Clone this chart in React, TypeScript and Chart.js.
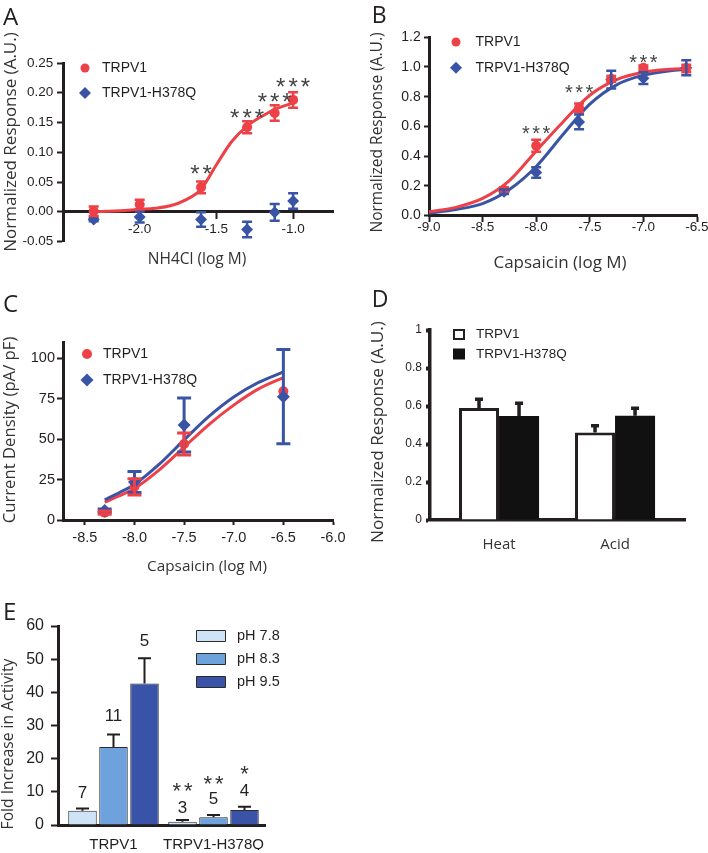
import React, { useEffect, useRef } from 'react';
import { Chart, registerables } from 'chart.js';

Chart.register(...registerables);

const RED = '#ee4047';
const BLUE = '#3a54a5';
const INK = '#231f20';
const GREY = '#333333';
const SANS = '"Liberation Sans", Arial, sans-serif';
const OPEN = '"Open Sans", sans-serif';

// ---------- Panel A: NH4Cl ----------
const aLogConc = [-2.3, -2.0, -1.6, -1.3, -1.12, -1.0];
const aTrpv1 = [0.001, 0.012, 0.041, 0.142, 0.166, 0.188];
const aTrpv1Err = [0.008, 0.008, 0.01, 0.01, 0.013, 0.013];
const aMutant = [-0.013, -0.009, -0.013, -0.03, -0.001, 0.018];
const aMutantErr = [0.003, 0.009, 0.012, 0.013, 0.014, 0.013];
const aFitLogConc = [-2.3, -2.2, -2.1, -2.0, -1.9, -1.8, -1.7, -1.6, -1.5, -1.4, -1.3, -1.2, -1.1, -1.0];
const aTrpv1Fit = [0.0, 0.001, 0.002, 0.004, 0.006, 0.01, 0.02, 0.038, 0.079, 0.118, 0.144, 0.161, 0.174, 0.183];
const aStars = ['', '', '**', '***', '***', '***'];
const aStarLevel = [0, 0, 0.073, 0.168, 0.194, 0.219];
const aXTicks = [-2.0, -1.5, -1.0];
const aYTicks = [-0.05, 0, 0.05, 0.1, 0.15, 0.2, 0.25];

// ---------- Panel B: Capsaicin (Ca imaging) ----------
const bLogConc = [-8.3, -8.0, -7.6, -7.3, -7.0, -6.6];
const bTrpv1 = [0.17, 0.47, 0.725, 0.92, 0.995, 0.99];
const bTrpv1Err = [0.02, 0.04, 0.03, 0.02, 0.015, 0.025];
const bMutant = [0.16, 0.29, 0.63, 0.915, 0.925, 0.995];
const bMutantErr = [0.015, 0.035, 0.05, 0.06, 0.04, 0.05];
const bFitLogConc = [-9.0, -8.75, -8.5, -8.25, -8.0, -7.75, -7.5, -7.25, -7.0, -6.75, -6.6];
const bTrpv1Fit = [0.025, 0.055, 0.115, 0.235, 0.435, 0.63, 0.81, 0.915, 0.965, 0.985, 0.99];
const bMutantFit = [0.015, 0.04, 0.08, 0.175, 0.33, 0.545, 0.75, 0.88, 0.945, 0.975, 0.985];
const bStars = ['', '***', '***', '', '***', ''];
const bStarLevel = [0, 0.584, 0.865, 0, 1.066, 0];
const bXTicks = [-9.0, -8.5, -8.0, -7.5, -7.0, -6.5];
const bYTicks = [0, 0.2, 0.4, 0.6, 0.8, 1.0, 1.2];

// ---------- Panel C: Capsaicin (current density) ----------
const cLogConc = [-8.3, -8.0, -7.5, -6.5];
const cTrpv1 = [4.5, 20.5, 47, 79.5];
const cTrpv1Err = [1, 5, 6.8, 0];
const cMutant = [5.8, 23.5, 58.7, 76.2];
const cMutantErr = [1, 6.5, 16.7, 29.1];
const cFitLogConc = [-8.3, -8.15, -8.0, -7.75, -7.5, -7.25, -7.0, -6.75, -6.5];
const cTrpv1Fit = [11, 15, 19.5, 31, 45, 59, 71, 81, 88];
const cMutantFit = [12.5, 17, 22, 34.5, 49.5, 64, 76, 85, 91.5];
const cXTicks = [-8.5, -8.0, -7.5, -7.0, -6.5, -6.0];
const cYTicks = [0, 25, 50, 75, 100];

// ---------- Panel D: Heat / Acid ----------
const dStimuli = ['Heat', 'Acid'];
const dTrpv1 = [0.59, 0.461];
const dTrpv1Err = [0.045, 0.035];
const dMutant = [0.547, 0.549];
const dMutantErr = [0.067, 0.039];
const dYTicks = [0, 0.2, 0.4, 0.6, 0.8, 1];

// ---------- Panel E: pH ----------
const eConstructs = ['TRPV1', 'TRPV1-H378Q'];
const ePh78 = [4.3, 1.0];
const ePh78Err = [0.7, 0.5];
const ePh83 = [23.5, 2.3];
const ePh83Err = [3.8, 0.7];
const ePh95 = [42.7, 4.5];
const ePh95Err = [7.6, 1.0];
const eN78 = ['7', '3'];
const eN83 = ['11', '5'];
const eN95 = ['5', '4'];
const eNLevel78 = [10, 5.4];
const eNLevel83 = [33.2, 8.1];
const eNLevel95 = [55.8, 10.5];
const eStars78 = ['', '**'];
const eStars83 = ['', '**'];
const eStars95 = ['', '*'];
const eStarLevel78 = [0, 12.1];
const eStarLevel83 = [0, 14.2];
const eStarLevel95 = [0, 17.2];
const eYTicks = [0, 10, 20, 30, 40, 50, 60];

const pts = (xs: number[], ys: number[]) => xs.map((x, i) => ({ x, y: ys[i] }));

const axis = (o: any) => ({
  type: 'linear',
  min: o.min,
  max: o.max,
  position: o.position,
  offset: false,
  afterBuildTicks: (s: any) => {
    s.ticks = o.ticks.map((v: number) => ({ value: v }));
  },
  afterFit: (s: any) => {
    if (o.fitW !== undefined) s.width = o.fitW;
    if (o.fitH !== undefined) s.height = o.fitH;
    s.paddingLeft = 0;
    s.paddingRight = 0;
    s.paddingTop = 0;
    s.paddingBottom = 0;
  },
  grid: {
    display: true,
    drawOnChartArea: false,
    offset: false,
    drawTicks: o.tl > 0,
    tickLength: o.tl,
    tickWidth: o.tickWidth ?? 2,
    tickColor: INK,
  },
  border: { display: true, width: o.border, color: INK },
  ticks: {
    autoSkip: false,
    maxRotation: 0,
    minRotation: 0,
    padding: o.pad,
    color: o.color ?? INK,
    font: { family: o.family ?? SANS, size: o.size },
    callback: (v: number) => o.fmt(v),
  },
});

const textsPlugin = (items: any[]) => ({
  id: 'texts',
  afterDraw(chart: any) {
    const ctx = chart.ctx;
    for (const t of items) {
      ctx.save();
      ctx.font = `${t.size}px ${t.family ?? OPEN}`;
      ctx.fillStyle = t.color ?? GREY;
      ctx.textAlign = t.align ?? 'center';
      ctx.textBaseline = t.baseline ?? 'middle';
      ctx.translate(t.x, t.y);
      if (t.rot) ctx.rotate((t.rot * Math.PI) / 180);
      ctx.fillText(t.text, 0, 0);
      ctx.restore();
    }
  },
});

const errPlugin = {
  id: 'errs',
  afterDatasetsDraw(chart: any) {
    const ctx = chart.ctx;
    chart.data.datasets.forEach((ds: any, di: number) => {
      if (!ds.err) return;
      const meta = chart.getDatasetMeta(di);
      const ys = chart.scales[meta.yAxisID];
      ctx.save();
      ctx.strokeStyle = ds.errColor;
      ctx.lineWidth = ds.errWidth;
      meta.data.forEach((el: any, i: number) => {
        const e = ds.err[i];
        if (!e) return;
        const v = ds.data[i].y;
        const x = el.x;
        const top = ys.getPixelForValue(v + e);
        const bot = ds.errUp ? ys.getPixelForValue(v) : ys.getPixelForValue(v - e);
        const hw = ds.cap / 2;
        ctx.beginPath();
        ctx.moveTo(x, bot);
        ctx.lineTo(x, top);
        ctx.moveTo(x - hw, top);
        ctx.lineTo(x + hw, top);
        if (!ds.errUp) {
          ctx.moveTo(x - hw, bot);
          ctx.lineTo(x + hw, bot);
        }
        ctx.stroke();
      });
      ctx.restore();
    });
  },
};

const notesPlugin = {
  id: 'notes',
  afterDatasetsDraw(chart: any) {
    const ctx = chart.ctx;
    chart.data.datasets.forEach((ds: any, di: number) => {
      if (!ds.notes) return;
      const meta = chart.getDatasetMeta(di);
      const ys = chart.scales[meta.yAxisID];
      for (const layer of ds.notes) {
        ctx.save();
        ctx.font = `${layer.size}px ${SANS}`;
        ctx.fillStyle = layer.color ?? INK;
        ctx.textAlign = 'left';
        ctx.textBaseline = 'alphabetic';
        const sp = layer.spacing ?? 0;
        (ctx as any).letterSpacing = `${sp}px`;
        layer.texts.forEach((t: string, i: number) => {
          if (!t) return;
          const el = meta.data[i];
          const cy = ys.getPixelForValue(layer.at[i]);
          const w = ctx.measureText(t).width - sp;
          const lift = layer.kind === 'star' ? 0.58 : 0.36;
          ctx.fillText(t, el.x - w / 2, cy + lift * layer.size);
        });
        (ctx as any).letterSpacing = '0px';
        ctx.restore();
      }
    });
  },
};

const keysPlugin = (o: any) => ({
  id: 'keys',
  afterDraw(chart: any) {
    const ctx = chart.ctx;
    const sets = chart.data.datasets.filter((d: any) => d.key).sort((a: any, b: any) => a.key.rank - b.key.rank);
    sets.forEach((ds: any, i: number) => {
      const k = ds.key;
      const x = o.x;
      const y = o.y + i * o.dy;
      ctx.save();
      ctx.beginPath();
      if (k.shape === 'circle') {
        ctx.arc(x, y, k.r, 0, Math.PI * 2);
      } else if (k.shape === 'diamond') {
        ctx.moveTo(x - k.r, y);
        ctx.lineTo(x, y - k.r);
        ctx.lineTo(x + k.r, y);
        ctx.lineTo(x, y + k.r);
        ctx.closePath();
      } else {
        ctx.rect(x - k.w / 2, y - k.h / 2, k.w, k.h);
      }
      ctx.fillStyle = k.fill;
      ctx.fill();
      if (k.lw) {
        ctx.lineWidth = k.lw;
        ctx.strokeStyle = k.stroke;
        ctx.stroke();
      }
      ctx.font = `${o.size}px ${SANS}`;
      ctx.fillStyle = INK;
      ctx.textAlign = 'left';
      ctx.textBaseline = 'middle';
      ctx.fillText(ds.label, o.textX, y);
      ctx.restore();
    });
  },
});

const baseOptions = (padding: any) => ({
  responsive: false,
  maintainAspectRatio: false,
  animation: false,
  events: [],
  layout: { padding },
  plugins: { legend: { display: false }, tooltip: { enabled: false }, title: { display: false } },
});

const scatterSet = (label: string, xs: number[], ys: number[], errs: number[], color: string, style: string, r: number, extra: any = {}) => ({
  label,
  data: pts(xs, ys),
  showLine: false,
  pointStyle: style,
  pointRadius: r,
  pointBackgroundColor: color,
  pointBorderColor: color,
  pointBorderWidth: 0,
  backgroundColor: color,
  borderColor: color,
  err: errs,
  errColor: color,
  ...extra,
});

const fitSet = (label: string, xs: number[], ys: number[], color: string) => ({
  type: 'line',
  label,
  data: pts(xs, ys),
  borderColor: color,
  backgroundColor: color,
  borderWidth: 3,
  pointRadius: 0,
  fill: false,
  showLine: true,
  cubicInterpolationMode: 'monotone',
});

const chartA = () => ({
  type: 'scatter',
  data: {
    datasets: [
      scatterSet('TRPV1-H378Q', aLogConc, aMutant, aMutantErr, BLUE, 'rectRot', 6, {
        errWidth: 2.5, cap: 10, key: { rank: 2, shape: 'diamond', r: 6, fill: BLUE },
      }),
      scatterSet('TRPV1', aLogConc, aTrpv1, aTrpv1Err, RED, 'circle', 5, {
        errWidth: 2.5, cap: 10, key: { rank: 1, shape: 'circle', r: 4.5, fill: RED },
        notes: [{ texts: aStars, at: aStarLevel, size: 24, kind: 'star', spacing: 3, color: '#444' }],
      }),
      fitSet('TRPV1 fit', aFitLogConc, aTrpv1Fit, RED),
    ],
  },
  options: {
    ...baseOptions({ left: 0, top: 63, right: 17, bottom: 48.5 }),
    scales: {
      x: axis({ min: -2.5, max: -0.74, ticks: aXTicks, fmt: (v: number) => v.toFixed(1), size: 13.5, tl: 6, pad: 3.6, border: 3, position: { y: 0 }, fitH: 30 }),
      y: axis({ min: -0.05, max: 0.25, ticks: aYTicks, fmt: (v: number) => v.toFixed(2), size: 13.5, tl: 6, pad: 3.7, border: 3, position: 'left', fitW: 63 }),
    },
  },
  plugins: [
    errPlugin,
    notesPlugin,
    keysPlugin({ x: 85, y: 68, dy: 25, textX: 102, size: 14 }),
    textsPlugin([
      { text: 'A', x: 3, y: 24.5, size: 24, align: 'left', baseline: 'alphabetic', color: INK },
      { text: 'Normalized Response (A.U.)', x: 11, y: 142, size: 17, rot: -90 },
      { text: 'NH4Cl (log M)', x: 197, y: 260, size: 15.5 },
    ]),
  ],
});

const chartB = () => ({
  type: 'scatter',
  data: {
    datasets: [
      scatterSet('TRPV1', bLogConc, bTrpv1, bTrpv1Err, RED, 'circle', 5, {
        errWidth: 2.5, cap: 10, key: { rank: 1, shape: 'circle', r: 4.5, fill: RED },
        notes: [{ texts: bStars, at: bStarLevel, size: 20, kind: 'star', spacing: 2.5, color: '#444' }],
      }),
      scatterSet('TRPV1-H378Q', bLogConc, bMutant, bMutantErr, BLUE, 'rectRot', 6, {
        errWidth: 2.5, cap: 10, key: { rank: 2, shape: 'diamond', r: 6, fill: BLUE },
      }),
      fitSet('TRPV1 fit', bFitLogConc, bTrpv1Fit, RED),
      fitSet('TRPV1-H378Q fit', bFitLogConc, bMutantFit, BLUE),
    ],
  },
  options: {
    ...baseOptions({ left: 0, top: 37.3, right: 11, bottom: 44.5 }),
    scales: {
      x: axis({ min: -9, max: -6.5, ticks: bXTicks, fmt: (v: number) => v.toFixed(1), size: 13.5, tl: 6.5, pad: -3.2, border: 3, position: 'bottom', fitH: 30 }),
      y: axis({ min: 0, max: 1.2, ticks: bYTicks, fmt: (v: number) => v.toFixed(1), size: 14, tl: 5, pad: 3.3, border: 3, position: 'left', fitW: 79 }),
    },
  },
  plugins: [
    errPlugin,
    notesPlugin,
    keysPlugin({ x: 106, y: 42, dy: 25.7, textX: 125.5, size: 14 }),
    textsPlugin([
      { text: 'B', x: 21.7, y: 23, size: 23, align: 'left', baseline: 'alphabetic', color: INK },
      { text: 'Normalized Response (A.U.)', x: 28, y: 132.5, size: 15.5, rot: -90 },
      { text: 'Capsaicin (log M)', x: 210, y: 263, size: 17 },
    ]),
  ],
});

const chartC = () => ({
  type: 'scatter',
  data: {
    datasets: [
      scatterSet('TRPV1-H378Q', cLogConc, cMutant, cMutantErr, BLUE, 'rectRot', 6.5, {
        errWidth: 3, cap: 14, key: { rank: 2, shape: 'diamond', r: 6.5, fill: BLUE },
      }),
      scatterSet('TRPV1', cLogConc, cTrpv1, cTrpv1Err, RED, 'circle', 5, {
        errWidth: 3, cap: 14, key: { rank: 1, shape: 'circle', r: 5, fill: RED },
      }),
      fitSet('TRPV1-H378Q fit', cFitLogConc, cMutantFit, BLUE),
      fitSet('TRPV1 fit', cFitLogConc, cTrpv1Fit, RED),
    ],
  },
  options: {
    ...baseOptions({ left: 0, top: 52, right: 17, bottom: 40 }),
    scales: {
      x: axis({ min: -8.72, max: -6.0, ticks: cXTicks, fmt: (v: number) => v.toFixed(1), size: 14.5, tl: 5, pad: 4.6, border: 3, position: 'bottom', fitH: 30 }),
      y: axis({ min: 0, max: 110, ticks: cYTicks, fmt: (v: number) => String(v), size: 14.5, tl: 6, pad: 2, border: 3, position: 'left', fitW: 63 }),
    },
  },
  plugins: [
    errPlugin,
    keysPlugin({ x: 87, y: 64, dy: 26, textX: 103, size: 14 }),
    textsPlugin([
      { text: 'C', x: 3, y: 22, size: 24, align: 'left', baseline: 'alphabetic', color: INK },
      { text: 'Current Density (pA/ pF)', x: 10, y: 140, size: 16.7, rot: -90 },
      { text: 'Capsaicin (log M)', x: 207, y: 276.7, size: 15.3 },
    ]),
  ],
});

const chartD = () => ({
  type: 'bar',
  data: {
    datasets: [
      {
        label: 'TRPV1',
        data: pts([0, 1], dTrpv1),
        backgroundColor: '#ffffff',
        borderColor: INK,
        borderWidth: 3,
        categoryPercentage: 0.69,
        barPercentage: 1,
        err: dTrpv1Err, errUp: true, errColor: INK, errWidth: 3.5, cap: 8,
        key: { rank: 1, shape: 'box', w: 10, h: 9, fill: '#ffffff', stroke: INK, lw: 2 },
      },
      {
        label: 'TRPV1-H378Q',
        data: pts([0, 1], dMutant),
        backgroundColor: '#111111',
        borderColor: '#111111',
        borderWidth: 0,
        categoryPercentage: 0.69,
        barPercentage: 1,
        err: dMutantErr, errUp: true, errColor: INK, errWidth: 3.5, cap: 8,
        key: { rank: 2, shape: 'box', w: 12, h: 11, fill: '#111111' },
      },
    ],
  },
  options: {
    ...baseOptions({ left: 0, top: 40, right: 23, bottom: 40 }),
    scales: {
      x: axis({ min: -0.595, max: 1.603, ticks: [0, 1], fmt: (v: number) => dStimuli[v] ?? '', size: 15, family: OPEN, color: GREY, tl: 0, pad: 16, border: 3.5, position: 'bottom', fitH: 30 }),
      y: axis({ min: 0, max: 1, ticks: dYTicks, fmt: (v: number) => String(v), size: 12, tl: 4, tickWidth: 4, pad: 4, border: 3.5, position: 'left', fitW: 80 }),
    },
  },
  plugins: [
    errPlugin,
    keysPlugin({ x: 109, y: 44.5, dy: 19.5, textX: 126, size: 13.5 }),
    textsPlugin([
      { text: 'D', x: 21.7, y: 16.5, size: 23, align: 'left', baseline: 'alphabetic', color: INK },
      { text: 'Normalized Response (A.U.)', x: 28, y: 142, size: 17.2, rot: -90 },
    ]),
  ],
});

const eBar = (label: string, ys: number[], errs: number[], color: string, rank: number, notes: any[]) => ({
  label,
  data: pts([0, 1], ys),
  backgroundColor: color,
  borderColor: '#2b2b2b',
  borderWidth: 1,
  categoryPercentage: 0.93,
  barPercentage: 0.92,
  err: errs, errUp: true, errColor: INK, errWidth: 2, cap: 13,
  notes,
  key: { rank, shape: 'box', w: 29, h: 11, fill: color, stroke: '#2b2b2b', lw: 1 },
});

const chartE = () => ({
  type: 'bar',
  data: {
    datasets: [
      eBar('pH 7.8', ePh78, ePh78Err, '#cfe3f6', 1, [
        { texts: eN78, at: eNLevel78, size: 17, kind: 'num' },
        { texts: eStars78, at: eStarLevel78, size: 22, kind: 'star', spacing: 3, color: '#333' },
      ]),
      eBar('pH 8.3', ePh83, ePh83Err, '#6da2dc', 2, [
        { texts: eN83, at: eNLevel83, size: 17, kind: 'num' },
        { texts: eStars83, at: eStarLevel83, size: 22, kind: 'star', spacing: 3, color: '#333' },
      ]),
      eBar('pH 9.5', ePh95, ePh95Err, '#3853a8', 3, [
        { texts: eN95, at: eNLevel95, size: 17, kind: 'num' },
        { texts: eStars95, at: eStarLevel95, size: 22, kind: 'star', spacing: 3, color: '#333' },
      ]),
    ],
  },
  options: {
    ...baseOptions({ left: 0, top: 36, right: 85, bottom: 3 }),
    scales: {
      x: axis({ min: -0.555, max: 1.515, ticks: [0, 1], fmt: (v: number) => eConstructs[v] ?? '', size: 15, tl: 0, pad: 11, border: 3, position: 'bottom', fitH: 25 }),
      y: axis({ min: 0, max: 60, ticks: eYTicks, fmt: (v: number) => String(v), size: 16, tl: 7, pad: 7, border: 3, position: 'left', fitW: 58 }),
    },
  },
  plugins: [
    errPlugin,
    notesPlugin,
    keysPlugin({ x: 211, y: 46, dy: 23, textX: 237, size: 14.5 }),
    textsPlugin([
      { text: 'E', x: 3, y: 30, size: 24, align: 'left', baseline: 'alphabetic', color: INK },
      { text: 'Fold Increase in Activity', x: 9, y: 154, size: 15.7, rot: -90 },
    ]),
  ],
});

function Panel({ left, top, width, height, make }: any) {
  const ref = useRef<HTMLCanvasElement>(null);
  useEffect(() => {
    const chart = new Chart(ref.current as HTMLCanvasElement, make() as any);
    return () => chart.destroy();
  }, []);
  return (
    <canvas
      ref={ref}
      width={width}
      height={height}
      style={{ position: 'absolute', left, top, width, height, display: 'block' }}
    />
  );
}

export default function App() {
  return (
    <div style={{ position: 'absolute', left: 0, top: 0, width: 708, height: 853, background: '#ffffff', overflow: 'hidden' }}>
      <Panel left={0} top={0} width={350} height={290} make={chartA} />
      <Panel left={350} top={0} width={358} height={290} make={chartB} />
      <Panel left={0} top={290} width={350} height={300} make={chartC} />
      <Panel left={350} top={290} width={358} height={300} make={chartD} />
      <Panel left={0} top={590} width={350} height={263} make={chartE} />
    </div>
  );
}
